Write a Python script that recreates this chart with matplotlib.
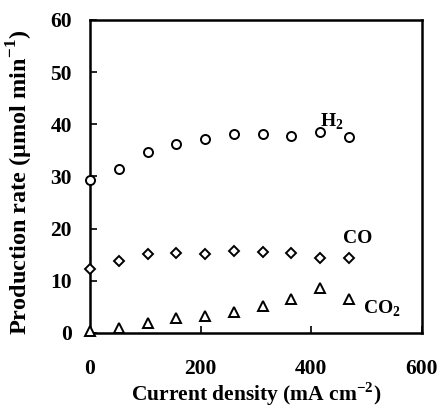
import matplotlib
matplotlib.use("Agg")
import matplotlib.pyplot as plt

# current density (mA cm^-2)
current = [0, 52, 104, 156, 208, 260, 312, 364, 416, 468]
# production rates (umol min^-1)
h2 = [29.3, 31.5, 34.7, 36.2, 37.2, 38.1, 38.1, 37.7, 38.5, 37.5]
co = [12.3, 13.8, 15.1, 15.3, 15.1, 15.8, 15.6, 15.3, 14.4, 14.4]
co2 = [0.3, 1.0, 1.9, 2.8, 3.3, 4.0, 5.2, 6.5, 8.7, 6.6]

plt.rcParams["font.family"] = ["Liberation Serif", "DejaVu Serif"]
plt.rcParams["font.weight"] = "bold"
plt.rcParams["mathtext.fontset"] = "custom"
plt.rcParams["mathtext.rm"] = "Liberation Serif:bold"
plt.rcParams["mathtext.bf"] = "Liberation Serif:bold"

fig = plt.figure(figsize=(4.4, 4.08), dpi=100)
ax = fig.add_axes([0.2045, 0.184, 0.7545, 0.767])

mk = dict(linestyle="none", markerfacecolor="white", markeredgecolor="black",
          markeredgewidth=1.4, clip_on=False, zorder=5)
ax.plot(current, h2, marker="o", markersize=6.5, **mk)
ax.plot(current, co, marker="D", markersize=5.5, **mk)
ax.plot(current, co2, marker="^", markersize=7, **mk)

ax.text(416, 39.6, "H$_2$", fontsize=14, ha="left", va="baseline")
ax.text(457, 17.3, "CO", fontsize=14, ha="left", va="baseline")
ax.text(494, 4.6, "CO$_2$", fontsize=14, ha="left", va="center")

ax.set_xlim(0, 600)
ax.set_ylim(0, 60)
ax.set_xticks([0, 200, 400, 600])
ax.set_yticks([0, 10, 20, 30, 40, 50, 60])
ax.tick_params(direction="in", length=5, width=1.2, labelsize=15.5,
               top=False, right=False)
ax.tick_params(axis="x", pad=19)
ax.tick_params(axis="y", pad=13)
for s in ax.spines.values():
    s.set_linewidth(1.8)

ax.set_xlabel("Current density (mA cm$^{-2}$)", fontsize=15.5, fontweight="bold")
ax.set_ylabel("Production rate (\u03bcmol min$^{-1}$)", fontsize=17.5, fontweight="bold")
ax.xaxis.set_label_coords(0.5, -0.152)
ax.yaxis.set_label_coords(-0.165, 0.48)

fig.savefig("out.png", dpi=100)
